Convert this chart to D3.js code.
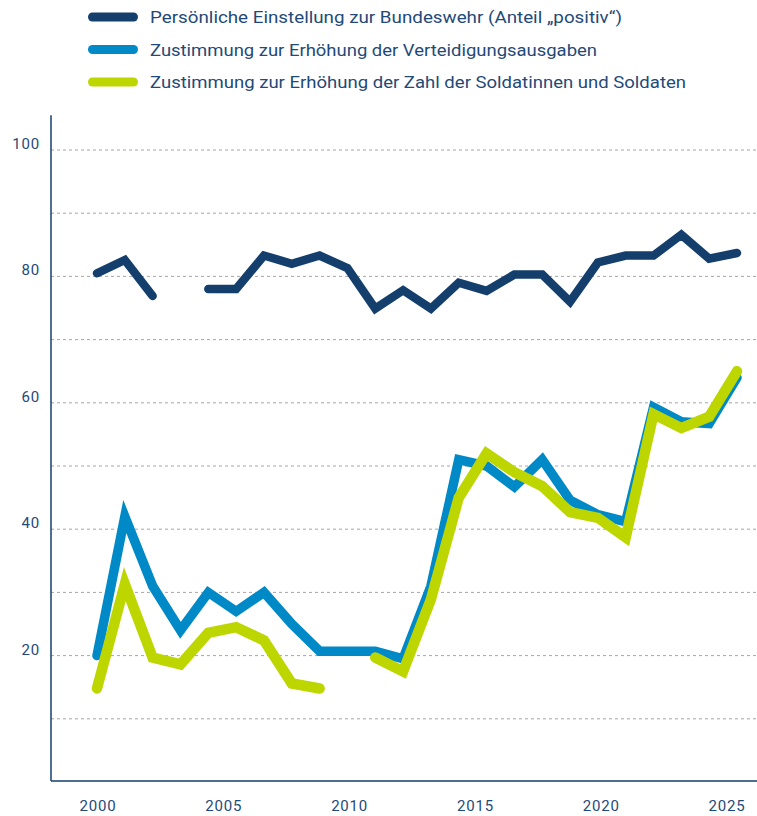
<!DOCTYPE html>
<html lang="de">
<head>
<meta charset="utf-8">
<script src="https://cdn.jsdelivr.net/npm/d3@7.9.0/dist/d3.min.js"></script>
<style>
    body { margin: 0; background: #fff; }
    svg { display: block; font-family: Roboto, "Open Sans", sans-serif; }
</style>
</head>
<body>
<svg id="chart" width="757" height="816"></svg>
<script>
// Survey points (evenly spaced along the x axis), null = no value
const einstellung = [80.5, 82.6, 76.9, null, 78, 78, 83.3, 82, 83.3, 81.3, 74.9, 77.8,
    74.9, 79, 77.7, 80.3, 80.3, 76, 82.2, 83.3, 83.3, 86.6, 82.8, 83.7];
const ausgaben = [20, 42, 31, 24, 30, 27, 30, 25, 20.7, 20.7, 20.7, 19.5,
    31, 51, 50, 46.7, 51, 44.6, 42.3, 41.2, 59.3, 57, 56.7, 64];
const soldaten = [14.8, 31.3, 19.7, 18.6, 23.6, 24.5, 22.4, 15.6, 14.8, null, 19.7, 17.5,
    28.9, 45, 52, 49, 46.8, 42.7, 41.8, 38.7, 58.2, 56, 57.8, 65];

const yearTicks = [2000, 2005, 2010, 2015, 2020, 2025];
const valueTicks = [20, 40, 60, 80, 100];
const gridValues = [10, 20, 30, 40, 50, 60, 70, 80, 90, 100];

const legendLabels = [
    'Persönliche Einstellung zur Bundeswehr (Anteil „positiv“)',
    'Zustimmung zur Erhöhung der Verteidigungsausgaben',
    'Zustimmung zur Erhöhung der Zahl der Soldatinnen und Soldaten'
];

const navy = '#143f6d';
const textColor = '#1f4a78';

const series = [
    { values: einstellung, color: navy, width: 8.5 },
    { values: ausgaben, color: '#0089c7', width: 9.5 },
    { values: soldaten, color: '#bdd600', width: 10.5 }
];

const svg = d3.select('#chart');

// Scales
const left = 51, right = 757;
const x = d3.scaleLinear().domain([0, ausgaben.length - 1]).range([97, 737]);
const xYear = d3.scaleLinear().domain([2000, 2025]).range([98, 727]);
const y = d3.scaleLinear().domain([0, 100]).range([782, 150]);

// Dotted gridlines
svg.append('g')
    .selectAll('line')
    .data(gridValues)
    .join('line')
    .attr('x1', left)
    .attr('x2', right)
    .attr('y1', d => y(d))
    .attr('y2', d => y(d))
    .attr('stroke', '#a6a6a6')
    .attr('stroke-width', 1)
    .attr('stroke-dasharray', '3,3');

// Axis lines
svg.append('line')
    .attr('x1', left).attr('x2', left)
    .attr('y1', y(105.5)).attr('y2', y(0) - 1)
    .attr('stroke', navy).attr('stroke-width', 1.5);
svg.append('line')
    .attr('x1', left).attr('x2', right)
    .attr('y1', y(0) - 1).attr('y2', y(0) - 1)
    .attr('stroke', navy).attr('stroke-width', 1.5);

// Tick labels
svg.append('g')
    .selectAll('text')
    .data(valueTicks)
    .join('text')
    .attr('x', 40)
    .attr('y', d => y(d) - 1)
    .attr('text-anchor', 'end')
    .attr('fill', textColor)
    .attr('font-size', 15)
    .attr('letter-spacing', 0.8)
    .text(d => d);

svg.append('g')
    .selectAll('text')
    .data(yearTicks)
    .join('text')
    .attr('x', d => xYear(d))
    .attr('y', 811)
    .attr('text-anchor', 'middle')
    .attr('fill', textColor)
    .attr('font-size', 15)
    .attr('letter-spacing', 0.8)
    .text(d => d);

// Lines
const line = d3.line()
    .defined(d => d != null)
    .x((d, i) => x(i))
    .y(d => y(d));

svg.append('g')
    .selectAll('path')
    .data(series)
    .join('path')
    .attr('d', d => line(d.values))
    .attr('fill', 'none')
    .attr('stroke', d => d.color)
    .attr('stroke-width', d => d.width)
    .attr('stroke-linejoin', 'miter')
    .attr('stroke-miterlimit', 10)
    .attr('stroke-linecap', 'round');

// Legend
const legendWidths = [472, 447, 536];
const legend = svg.append('g');
legendLabels.forEach((label, i) => {
    const cy = 17 + i * 32.5;
    legend.append('rect')
        .attr('x', 88).attr('y', cy - 4.5)
        .attr('width', 50).attr('height', 9)
        .attr('rx', 4.5)
        .attr('fill', series[i].color);
    legend.append('text')
        .attr('x', 150).attr('y', cy + 6)
        .attr('fill', textColor)
        .attr('font-size', 17)
        .attr('textLength', legendWidths[i])
        .attr('lengthAdjust', 'spacingAndGlyphs')
        .text(label);
});
</script>
</body>
</html>
